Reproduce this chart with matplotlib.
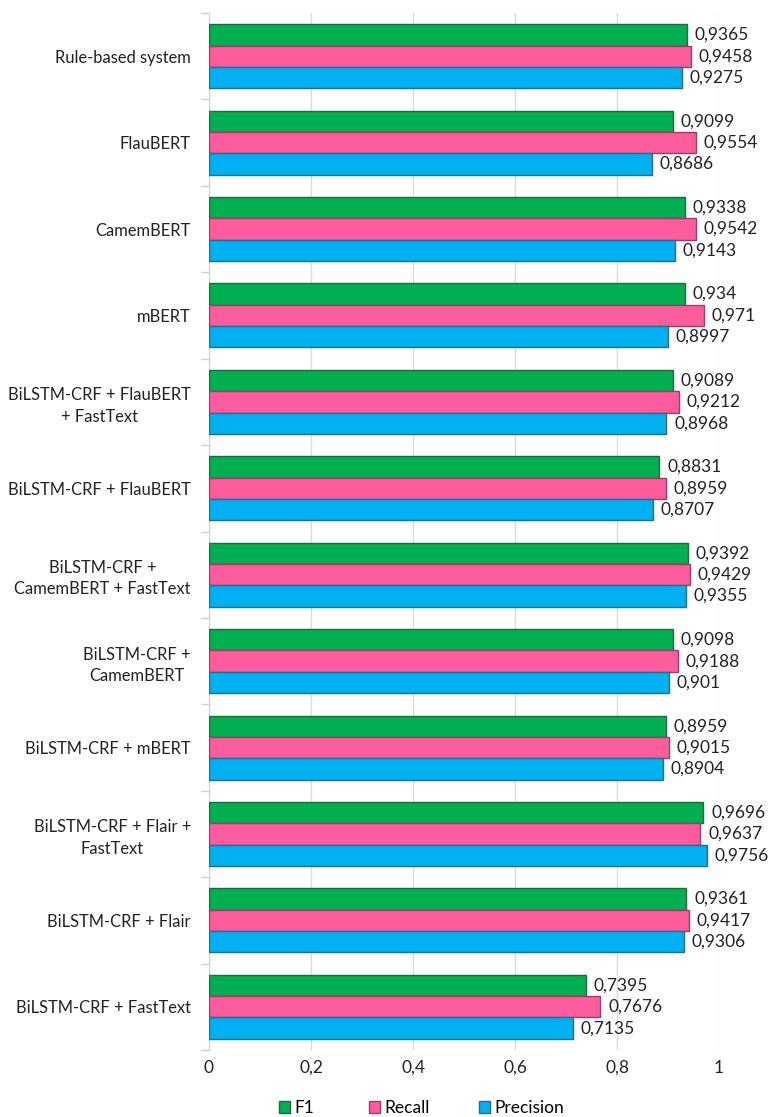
import matplotlib
matplotlib.use("Agg")
import matplotlib.pyplot as plt
import numpy as np
from matplotlib.patches import Patch

categories = [
    "Rule-based system",
    "FlauBERT",
    "CamemBERT",
    "mBERT",
    "BiLSTM-CRF + FlauBERT\n+ FastText",
    "BiLSTM-CRF + FlauBERT",
    "BiLSTM-CRF +\nCamemBERT + FastText",
    "BiLSTM-CRF +\nCamemBERT",
    "BiLSTM-CRF + mBERT",
    "BiLSTM-CRF + Flair +\nFastText",
    "BiLSTM-CRF + Flair",
    "BiLSTM-CRF + FastText",
]
f1 = [0.9365, 0.9099, 0.9338, 0.934, 0.9089, 0.8831, 0.9392, 0.9098, 0.8959, 0.9696, 0.9361, 0.7395]
recall = [0.9458, 0.9554, 0.9542, 0.971, 0.9212, 0.8959, 0.9429, 0.9188, 0.9015, 0.9637, 0.9417, 0.7676]
precision = [0.9275, 0.8686, 0.9143, 0.8997, 0.8968, 0.8707, 0.9355, 0.901, 0.8904, 0.9756, 0.9306, 0.7135]
series_names = ["F1", "Recall", "Precision"]
xticks = [0, 0.2, 0.4, 0.6, 0.8, 1]
xtick_labels = ["0", "0,2", "0,4", "0,6", "0,8", "1"]

colors = ["#00B050", "#FF5C9D", "#00B0F0"]
edges = ["#1E6B3C", "#A23A66", "#1F6F93"]

plt.rcParams['font.family'] = ['Lato', 'DejaVu Sans']
FS = 12.5
FS_CAT = 11.9

fig = plt.figure(figsize=(7.69, 11.17), dpi=100)
ax = fig.add_axes([209/769, 1 - 1050/1117, (719-209)/769, (1050-13)/1117])

y = np.arange(len(categories))
h = 0.247
offsets = [-h, 0, h]
for vals, off, c, e in zip([f1, recall, precision], offsets, colors, edges):
    bars = ax.barh(y + off, vals, height=h, color=c, edgecolor=e, linewidth=1.0, zorder=3)
    for b, v in zip(bars, vals):
        ax.annotate(f"{v:g}".replace('.', ','), xy=(b.get_width(), b.get_y() + b.get_height()/2),
                    xytext=(5.5, 0), textcoords='offset points', va='center', ha='left',
                    fontsize=FS, color='#222222', clip_on=False)

ax.set_xlim(0, 1)
ax.set_ylim(len(categories) - 0.5, -0.5)
ax.set_xticks(xticks)
ax.set_xticklabels(xtick_labels, fontsize=FS, color='#222222')
ax.set_yticks(y)
ax.set_yticklabels(categories, fontsize=FS_CAT, color='#222222', ha='right',
                   multialignment='center', linespacing=1.4)
ax.tick_params(axis='y', length=0, pad=13)
ax.tick_params(axis='x', length=0, pad=7)
ax.set_yticks(np.arange(-0.5, len(categories) + 0.5, 1), minor=True)
ax.tick_params(axis='y', which='minor', length=6, color='#d0d0d0', width=1)
ax.grid(axis='x', color='#d9d9d9', linewidth=1, zorder=0)
for s in ['top', 'right', 'bottom']:
    ax.spines[s].set_visible(False)
ax.spines['left'].set_color('#d0d0d0')

legend_x = [279, 369, 479]
for c, e, n, lx in zip(colors, edges, series_names, legend_x):
    fig.legend(handles=[Patch(facecolor=c, edgecolor=e, label=n)], loc='center left',
               bbox_to_anchor=(lx/769, 1 - 1108/1117), frameon=False, fontsize=FS,
               handlelength=0.65, handleheight=0.65, handletextpad=0.25,
               borderpad=0, borderaxespad=0)

fig.savefig("out.png", dpi=100)
